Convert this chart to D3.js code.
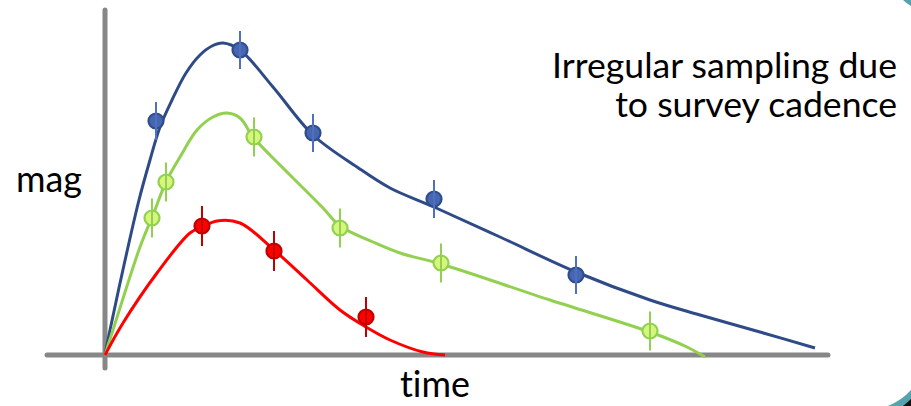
<!DOCTYPE html>
<html>
<head>
<meta charset="utf-8">
<script src="https://cdn.jsdelivr.net/npm/d3@7"></script>
<style>
  html, body { margin: 0; padding: 0; background: #fff; }
  svg { display: block; }
  text { font-family: Lato, "Open Sans", "Liberation Sans", sans-serif; fill: #000; font-variant-ligatures: none; }
</style>
</head>
<body>
<svg id="chart" width="911" height="406"></svg>
<script>
// ---- data (time, mag in arbitrary units) ----
const blueCurve = [[0,0],[0.5,2.5],[1.9,9.0],[3.4,15.5],[4.5,19.5],[5.5,22.8],[6.7,25.5],[8.1,28.2],[9.5,30.0],[10.7,30.9],[11.8,31.2],[13.5,30.5],[16.8,26.8],[20.8,22.0],[25.2,18.8],[28.5,16.7],[32.9,14.8],[39.5,11.8],[47.1,8.3],[54.5,5.5],[59.5,4.0],[65.5,2.3],[71.0,0.7]];
const greenCurve = [[0,0],[0.8,2.5],[3.5,10.8],[4.8,14.0],[6.1,17.3],[7.5,19.8],[9.2,22.5],[10.8,23.8],[12.2,24.2],[13.5,23.7],[14.8,21.8],[16.5,20.0],[18.5,18.0],[21.8,14.7],[23.5,12.9],[26.8,11.3],[29.5,10.2],[33.6,9.1],[44.5,5.5],[54.5,2.3],[58.2,0.8],[60.0,-0.2]];
const redCurve = [[0,0],[1.8,3.2],[5.2,8.2],[8.5,12.2],[9.7,12.8],[11.2,13.4],[13.5,13.2],[16.9,10.5],[20.2,7.5],[23.5,4.5],[26.1,2.8],[28.5,1.5],[31.8,0.3],[34.0,0]];

const bluePoints  = [[5.1,23.4],[13.5,30.5],[20.8,22.2],[32.9,15.6],[47.1,8.0]];
const greenPoints = [[4.7,13.7],[6.1,17.3],[14.9,21.8],[23.5,12.7],[33.6,9.2],[54.5,2.4]];
const redPoints   = [[9.7,12.9],[16.9,10.4],[26.1,3.8]];
const errBlue = 1.9, errGreen = 1.95, errRed = 2.0;

const xAxisExtent = [-5.8, 72.3];
const yAxisExtent = [-1.3, 34.5];
const xLabel = "time", yLabel = "mag";
const noteLines = ["Irregular sampling due", "to survey cadence"];

// ---- scales ----
const svg = d3.select("#chart");
const x = d3.scaleLinear().domain([0, 72.3]).range([105, 828]);
const y = d3.scaleLinear().domain([0, 34.5]).range([355, 10]);

// decorations (slide corner)
svg.append("path").attr("d", "M903,0 L911,0 L911,6 Q906,3 903,0 Z").attr("fill", "#56a3b0");
svg.append("path").attr("d", "M888,406 Q902,400 911,390 L911,406 Z").attr("fill", "#56a3b0");
svg.append("path").attr("d", "M903,406 Q908,402 911,399 L911,406 Z").attr("fill", "#111");

// axes
const axisG = svg.append("g").attr("stroke", "#878787").attr("stroke-width", 5).attr("stroke-linecap", "round");
axisG.append("line").attr("x1", x(0)).attr("x2", x(0)).attr("y1", y(yAxisExtent[1])).attr("y2", y(yAxisExtent[0]));
axisG.append("line").attr("x1", x(xAxisExtent[0])).attr("x2", x(xAxisExtent[1])).attr("y1", y(0)).attr("y2", y(0));

// curves
const line = d3.line().x(d => x(d[0])).y(d => y(d[1])).curve(d3.curveCatmullRom.alpha(0.5));
const series = [
  {curve: blueCurve, pts: bluePoints, err: errBlue, line: "#2f4b87", fill: "#4766b0", stroke: "#2f4d8c", bar: "#4f6fc2"},
  {curve: greenCurve, pts: greenPoints, err: errGreen, line: "#92d050", fill: "#d6f57c", stroke: "#92d050", bar: "#92d050"},
  {curve: redCurve, pts: redPoints, err: errRed, line: "#ff0000", fill: "#ff0000", stroke: "#c00000", bar: "#c00000"}
];
series.forEach(s => {
  svg.append("path").attr("d", line(s.curve)).attr("fill", "none")
    .attr("stroke", s.line).attr("stroke-width", 3).attr("stroke-linecap", "butt");
});
series.forEach(s => {
  const g = svg.append("g");
  g.selectAll("circle").data(s.pts).join("circle")
    .attr("cx", d => x(d[0])).attr("cy", d => y(d[1])).attr("r", 7.5)
    .attr("fill", s.fill).attr("stroke", s.stroke).attr("stroke-width", 2.2);
  g.selectAll("line").data(s.pts).join("line")
    .attr("x1", d => x(d[0])).attr("x2", d => x(d[0]))
    .attr("y1", d => y(d[1] + s.err)).attr("y2", d => y(d[1] - s.err))
    .attr("stroke", s.bar).attr("stroke-width", 2);
});

// texts
function fitText(t, width, startSize) {
  t.attr("font-size", startSize);
  const w = t.node().getComputedTextLength();
  t.attr("font-size", startSize * width / w);
}
const yl = svg.append("text").text(yLabel).attr("x", 16).attr("y", 192);
fitText(yl, 66, 30);
const xl = svg.append("text").text(xLabel).attr("x", 400).attr("y", 397);
fitText(xl, 70, 30);
const n1 = svg.append("text").text(noteLines[0]).attr("x", 897).attr("y", 78).attr("text-anchor", "end");
fitText(n1, 345, 32);
const n2 = svg.append("text").text(noteLines[1]).attr("x", 897).attr("y", 117).attr("text-anchor", "end");
n2.attr("font-size", n1.attr("font-size"));
</script>
</body>
</html>
